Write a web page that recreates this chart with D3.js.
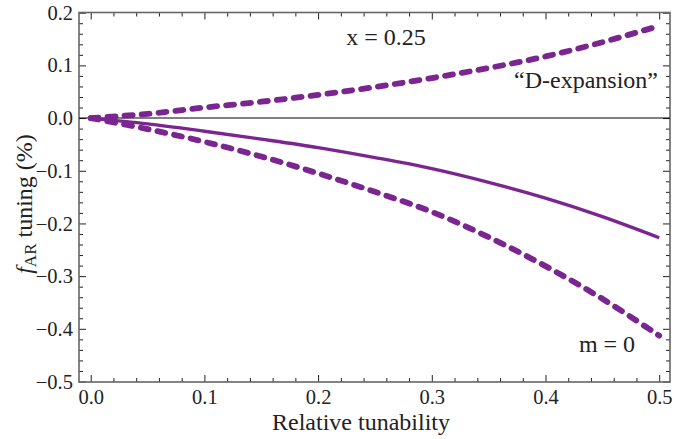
<!DOCTYPE html>
<html><head><meta charset="utf-8">
<script src="https://cdn.jsdelivr.net/npm/d3@7"></script>
<style>
body{margin:0;background:#fff}
text{font-family:"Liberation Serif","Times New Roman",serif;fill:#222}
</style></head><body>
<svg id="c" width="674" height="439"></svg>
<script>
const xs = [0, 0.05, 0.1, 0.15, 0.2, 0.25, 0.3, 0.35, 0.4, 0.45, 0.5];
const dExpansion = [0, 0.008, 0.020, 0.031, 0.044, 0.059, 0.076, 0.095, 0.117, 0.144, 0.175];
const exact = [0, -0.011, -0.025, -0.040, -0.056, -0.075, -0.096, -0.122, -0.152, -0.187, -0.227];
const mZero = [0, -0.021, -0.045, -0.073, -0.105, -0.140, -0.178, -0.226, -0.281, -0.343, -0.413];
const xTicks = [0, 0.1, 0.2, 0.3, 0.4, 0.5];
const yTicks = [0.2, 0.1, 0, -0.1, -0.2, -0.3, -0.4, -0.5];

const svg = d3.select("#c");
const L = 79, R = 670, T = 12.5, B = 382;
const x = d3.scaleLinear().domain([-0.0103, 0.5095]).range([L, R]);
const y = d3.scaleLinear().domain([-0.5, 0.2]).range([381.5, 12.7]);
const purple = "#7b2590";

const xMinor = d3.range(0, 0.5001, 0.02).filter(v => !xTicks.some(t => Math.abs(t - v) < 1e-9));
const yMinor = d3.range(-0.5, 0.2001, 0.02).filter(v => !yTicks.some(t => Math.abs(t - v) < 1e-9));

function styleAxis(g){
  g.select(".domain").remove();
  g.selectAll("line").attr("stroke","#222").attr("stroke-width",1);
  g.selectAll("text").attr("font-size","20.5px").attr("fill","#222")
   .attr("font-family",'"Liberation Serif","Times New Roman",serif');
}
// bottom
svg.append("g").attr("transform",`translate(0,${B})`)
  .call(d3.axisBottom(x).tickValues(xTicks).tickSize(-7).tickPadding(7.5).tickFormat(d3.format(".1f"))).call(styleAxis);
svg.append("g").attr("transform",`translate(0,${B})`)
  .call(d3.axisBottom(x).tickValues(xMinor).tickSize(-4).tickFormat("")).call(styleAxis);
// top
svg.append("g").attr("transform",`translate(0,${T})`)
  .call(d3.axisTop(x).tickValues(xTicks).tickSize(-7).tickFormat("")).call(styleAxis);
svg.append("g").attr("transform",`translate(0,${T})`)
  .call(d3.axisTop(x).tickValues(xMinor).tickSize(-4).tickFormat("")).call(styleAxis);
// left
svg.append("g").attr("transform",`translate(${L},0)`)
  .call(d3.axisLeft(y).tickValues(yTicks).tickSize(-7).tickPadding(6).tickFormat(d3.format(".1f"))).call(styleAxis);
svg.append("g").attr("transform",`translate(${L},0)`)
  .call(d3.axisLeft(y).tickValues(yMinor).tickSize(-4).tickFormat("")).call(styleAxis);
// right
svg.append("g").attr("transform",`translate(${R},0)`)
  .call(d3.axisRight(y).tickValues(yTicks).tickSize(-7).tickFormat("")).call(styleAxis);
svg.append("g").attr("transform",`translate(${R},0)`)
  .call(d3.axisRight(y).tickValues(yMinor).tickSize(-4).tickFormat("")).call(styleAxis);

// frame
svg.append("rect").attr("x",L).attr("y",T).attr("width",R-L).attr("height",B-T)
  .attr("fill","none").attr("stroke","#666").attr("stroke-width",1.6);

// zero line
svg.append("line").attr("x1",L).attr("x2",R).attr("y1",y(0)).attr("y2",y(0))
  .attr("stroke","#000").attr("stroke-width",1.1);

const line = d3.line().x((d,i)=>x(xs[i])).y(d=>y(d)).curve(d3.curveCatmullRom);
svg.append("path").attr("d",line(exact)).attr("fill","none").attr("stroke",purple)
  .attr("stroke-width",3.3);
[dExpansion, mZero].forEach(s=>{
  svg.append("path").attr("d",line(s)).attr("fill","none").attr("stroke",purple)
    .attr("stroke-width",5.8).attr("stroke-linecap","round").attr("stroke-dasharray","8,9");
});

// annotations
svg.append("text").attr("x",386).attr("y",45).attr("text-anchor","middle").attr("font-size","24px").text("x = 0.25");
svg.append("text").attr("x",658).attr("y",88).attr("text-anchor","end").attr("font-size","24px").text("\u201cD-expansion\u201d");
svg.append("text").attr("x",607).attr("y",352).attr("text-anchor","middle").attr("font-size","24px").text("m = 0");

// axis titles
svg.append("text").attr("x",361).attr("y",430).attr("text-anchor","middle").attr("font-size","24px").text("Relative tunability");
const yl = svg.append("text").attr("transform","translate(32,204) rotate(-90)").attr("text-anchor","middle").attr("font-size","24px");
yl.append("tspan").attr("font-style","italic").text("f");
yl.append("tspan").attr("font-size","17px").attr("dy",4).text("AR");
yl.append("tspan").attr("dy",-4).text(" tuning (%)");
</script>
</body></html>
